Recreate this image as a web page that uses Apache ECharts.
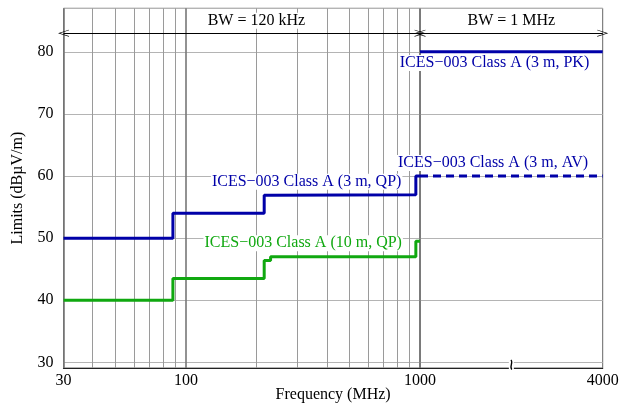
<!DOCTYPE html>
<html>
<head>
<meta charset="utf-8">
<script src="https://cdn.jsdelivr.net/npm/echarts@6/dist/echarts.min.js"></script>
<style>html,body{margin:0;padding:0;background:#fff}#c{width:631px;height:407px}</style>
</head>
<body>
<div id="c"></div>
<script>
// ---- data ----
const freqQP = [30, 88, 216, 230, 960, 1000];
const qp3m = [50, 54, 56.9, 57, 60, 60];
const qp10m = [40, 43.5, 46.4, 47, 49.5, 49.5];
const freqHigh = [1000, 4000];
const pk3m = [80, 80];
const av3m = [60, 60];
const minorFreqs = [40, 50, 60, 70, 80, 90, 200, 300, 400, 500, 600, 700, 800, 900];
const yTickLabels = [30, 40, 50, 60, 70, 80];
const xTickLabelsLow = [30, 100, 1000];
const xTickLabelsHigh = [4000];
const bandLow = [30, 1000];
const bandHigh = [1000, 4000];

const BLUE = '#0000a8', GREEN = '#10a810';
const FONT = 'Liberation Serif';
const zip = (a, b) => a.map((v, i) => [v, b[i]]);

const chart = echarts.init(document.getElementById('c'));
const Y_MIN = 29.1, Y_MAX = 87;
const chevron = 'path://M6,0 L12,12 L10.8,12 L6,2.4 L1.2,12 L0,12 Z';

function yAxisCfg(grid, showLabels) {
  return {
    type: 'value', gridIndex: grid, min: Y_MIN, max: Y_MAX,
    minInterval: 10, maxInterval: 10, splitNumber: 6,
    axisLine: {show: false}, axisTick: {show: false},
    axisLabel: {show: showLabels, margin: 10, color: '#000', fontFamily: FONT, fontSize: 16,
      showMinLabel: false, showMaxLabel: false,
      formatter: v => yTickLabels.includes(Math.round(v * 10) / 10) ? String(v) : ''},
    splitLine: {show: true, lineStyle: {color: '#b4b4b4', width: 1.2}},
    name: showLabels ? 'Limits (dBµV/m)' : '',
    nameLocation: 'middle', nameGap: 38,
    nameTextStyle: {color: '#000', fontFamily: FONT, fontSize: 16}
  };
}

function labelPoint(coord, text, color) {
  return {coord: coord, name: text, symbol: 'rect', symbolSize: 1,
    itemStyle: {color: 'transparent'},
    label: {show: true, position: 'inside', formatter: '{b}', color: color,
      fontFamily: FONT, fontSize: 16, backgroundColor: '#fff', padding: [0, 1]}};
}

const option = {
  animation: false,
  backgroundColor: '#fff',
  grid: [
    {left: 63.5, top: 8.3, width: 356.5, height: 359.7, show: true, borderColor: '#666', borderWidth: 1},
    {left: 420, top: 8.3, width: 182.7, height: 359.7, show: true, borderColor: '#666', borderWidth: 1}
  ],
  xAxis: [
    {type: 'log', logBase: 10, gridIndex: 0, min: 30, max: 1000,
      axisLine: {show: true, lineStyle: {color: '#222', width: 1.2}}, axisTick: {show: false},
      axisLabel: {margin: 5, color: '#000', fontFamily: FONT, fontSize: 16,
        formatter: v => xTickLabelsLow.includes(Math.round(v)) ? String(Math.round(v)) : ''},
      splitLine: {show: true, lineStyle: {color: '#777', width: 1.6}}},
    {type: 'log', logBase: 10, gridIndex: 1, min: 1000, max: 4000,
      axisLine: {show: true, lineStyle: {color: '#222', width: 1.2}}, axisTick: {show: false},
      axisLabel: {margin: 5, color: '#000', fontFamily: FONT, fontSize: 16,
        formatter: v => xTickLabelsHigh.includes(Math.round(v)) ? String(Math.round(v)) : ''},
      splitLine: {show: false}}
  ],
  yAxis: [yAxisCfg(0, true), yAxisCfg(1, false)],
  series: [
    { // minor frequency gridlines
      type: 'line', xAxisIndex: 0, yAxisIndex: 0, data: [], silent: true,
      markLine: {silent: true, z: 1, symbol: 'none', label: {show: false},
        lineStyle: {color: '#9a9a9a', width: 1, type: 'solid'},
        data: minorFreqs.map(f => ({xAxis: f}))}
    },
    { // band arrow low
      type: 'line', xAxisIndex: 0, yAxisIndex: 0, data: [], silent: true,
      markLine: {silent: true, z: 4, symbol: [chevron, chevron], symbolSize: [7, 11],
        label: {show: false}, lineStyle: {color: '#000', width: 1, type: 'solid'},
        data: [[{coord: [bandLow[0], 83]}, {coord: [bandLow[1], 83]}]]},
      markPoint: {silent: true, data: [labelPoint([200, 85], 'BW = 120 kHz', '#000')]}
    },
    { // band arrow high
      type: 'line', xAxisIndex: 1, yAxisIndex: 1, data: [], silent: true,
      markLine: {silent: true, z: 4, symbol: [chevron, chevron], symbolSize: [7, 11],
        label: {show: false}, lineStyle: {color: '#000', width: 1, type: 'solid'},
        data: [[{coord: [bandHigh[0], 83]}, {coord: [bandHigh[1], 83]}]]},
      markPoint: {silent: true, data: [labelPoint([2000, 85], 'BW = 1 MHz', '#000')]}
    },
    {
      name: 'ICES−003 Class A (3 m, QP)', type: 'line', xAxisIndex: 0, yAxisIndex: 0,
      step: 'end', data: zip(freqQP, qp3m), symbol: 'none', z: 3,
      lineStyle: {color: BLUE, width: 3}, itemStyle: {color: BLUE},
      markPoint: {silent: true, data: [labelPoint([328, 59.1], 'ICES−003 Class A (3 m, QP)', BLUE)]}
    },
    {
      name: 'ICES−003 Class A (10 m, QP)', type: 'line', xAxisIndex: 0, yAxisIndex: 0,
      step: 'end', data: zip(freqQP, qp10m), symbol: 'none', z: 3,
      lineStyle: {color: GREEN, width: 3}, itemStyle: {color: GREEN},
      markPoint: {silent: true, data: [labelPoint([317, 49.2], 'ICES−003 Class A (10 m, QP)', GREEN)]}
    },
    {
      name: 'ICES−003 Class A (3 m, PK)', type: 'line', xAxisIndex: 1, yAxisIndex: 1,
      data: zip(freqHigh, pk3m), symbol: 'none', z: 3,
      lineStyle: {color: BLUE, width: 3}, itemStyle: {color: BLUE},
      markPoint: {silent: true, data: [labelPoint([1760, 78.2], 'ICES−003 Class A (3 m, PK)', BLUE)]}
    },
    {
      name: 'ICES−003 Class A (3 m, AV)', type: 'line', xAxisIndex: 1, yAxisIndex: 1,
      data: zip(freqHigh, av3m), symbol: 'none', z: 3,
      lineStyle: {color: BLUE, width: 3, type: [8, 5]}, itemStyle: {color: BLUE},
      markPoint: {silent: true, data: [labelPoint([1740, 62.1], 'ICES−003 Class A (3 m, AV)', BLUE)]}
    }
  ]
};
chart.setOption(option);

// axis break marker and x-axis title
const bp = chart.convertToPixel({xAxisIndex: 1, yAxisIndex: 1}, [2000, Y_MIN]);
const p30 = chart.convertToPixel({xAxisIndex: 0, yAxisIndex: 0}, [30, Y_MIN]);
const p4000 = chart.convertToPixel({xAxisIndex: 1, yAxisIndex: 1}, [4000, Y_MIN]);
chart.setOption({
  graphic: [
    {type: 'rect', z: 100, shape: {x: bp[0] - 2.5, y: bp[1] - 8, width: 5, height: 11}, style: {fill: '#fff'}},
    {type: 'bezierCurve', z: 101,
      shape: {x1: bp[0] - 0.5, y1: bp[1] - 8, x2: bp[0] + 0.5, y2: bp[1] + 1.5,
        cpx1: bp[0] + 2.5, cpy1: bp[1] - 6, cpx2: bp[0] - 2.5, cpy2: bp[1] - 1},
      style: {stroke: '#000', lineWidth: 1.3, fill: null}},
    {type: 'text', z: 100, x: (p30[0] + p4000[0]) / 2, y: 395,
      style: {text: 'Frequency (MHz)', fill: '#000', fontFamily: FONT, fontSize: 16,
        align: 'center', verticalAlign: 'middle'}}
  ]
});
</script>
</body>
</html>
